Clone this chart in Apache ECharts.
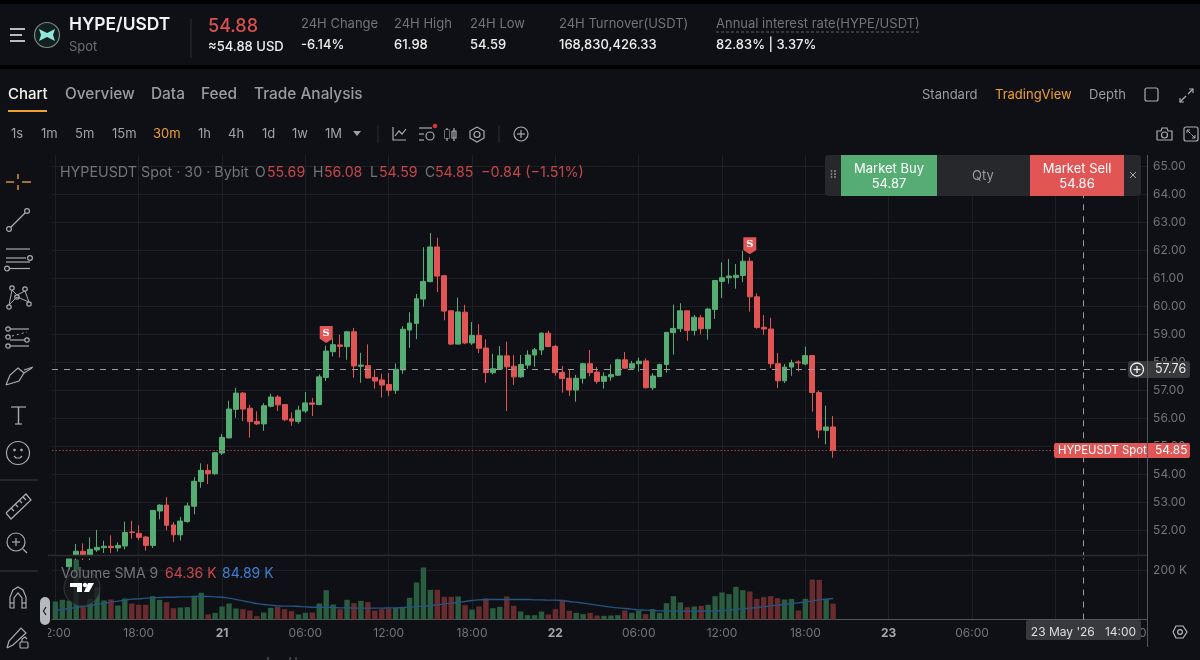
<!DOCTYPE html>
<html><head><meta charset="utf-8">
<style>html,body{margin:0;padding:0;background:#000}#c{width:1200px;height:660px}</style>
<script src="https://cdn.jsdelivr.net/npm/echarts@6/dist/echarts.min.js"></script>
</head><body><div id="c"></div>
<script>
const opens=[50.30,50.55,50.70,51.06,51.25,51.11,51.30,51.38,51.43,51.37,
51.44,51.94,51.89,51.76,51.46,52.69,52.90,52.19,51.84,52.31,
52.86,53.74,54.14,54.02,54.76,55.30,56.32,56.90,56.36,55.89,
55.80,56.43,56.76,56.49,55.98,55.89,56.26,56.55,56.49,57.46,
58.38,58.62,58.56,59.09,57.86,57.88,57.46,57.37,57.21,57.00,
57.73,59.15,59.39,60.26,60.88,62.12,61.09,59.84,58.65,59.79,
58.69,58.96,58.51,57.63,57.76,58.23,57.86,57.48,57.90,58.26,
58.44,59.04,58.57,57.64,57.43,57.01,57.43,57.95,57.65,57.32,
57.48,57.54,58.09,57.79,57.95,58.05,57.09,57.49,57.92,59.06,
59.20,59.84,59.14,59.59,59.20,59.89,60.89,61.02,61.03,61.10,
61.61,60.34,59.25,59.19,57.95,57.34,57.83,58.01,57.94,58.24,
56.92,55.57,55.69];
const closes=[50.55,50.70,51.00,51.25,51.11,51.32,51.39,51.43,51.38,51.46,
51.92,51.92,51.75,51.46,52.71,52.90,52.18,51.84,52.33,52.87,
53.75,54.14,54.02,54.77,55.32,56.33,56.90,56.33,55.88,55.80,
56.45,56.76,56.48,55.95,55.90,56.29,56.55,56.50,57.48,58.40,
58.63,58.57,59.09,57.87,57.90,57.44,57.33,57.19,57.00,57.75,
59.18,59.40,60.27,60.89,62.12,61.08,59.83,58.65,59.80,58.69,
58.96,58.50,57.63,57.77,58.23,57.84,57.48,57.92,58.26,58.45,
59.04,58.56,57.63,57.42,57.01,57.43,57.95,57.63,57.32,57.50,
57.56,58.09,57.79,57.95,58.04,57.09,57.51,57.92,59.07,59.21,
59.84,59.14,59.61,59.20,59.90,60.92,61.02,61.08,61.11,61.61,
60.34,59.24,59.19,57.95,57.34,57.83,57.98,57.98,58.24,56.92,
55.58,55.69,54.85];
const lows=[50.20,50.40,50.60,50.94,50.94,50.94,51.23,51.19,51.19,51.24,
51.32,51.70,51.65,51.27,51.37,52.39,52.00,51.58,51.63,52.27,
52.57,53.52,53.65,53.98,54.69,55.28,56.02,55.90,55.31,55.76,
55.55,56.39,56.26,55.90,55.73,55.81,56.19,56.08,56.47,57.33,
58.21,58.17,58.09,57.45,57.27,57.43,57.06,56.74,56.79,56.87,
57.59,58.52,58.83,59.99,60.87,60.51,59.50,58.62,58.64,58.65,
58.62,58.33,57.27,57.57,57.75,56.26,57.19,57.45,57.77,57.84,
58.26,58.55,57.52,56.92,56.80,56.59,57.24,57.50,57.24,57.06,
57.34,57.52,57.76,57.76,57.67,57.07,57.01,57.48,57.63,58.27,
59.08,58.77,58.96,59.00,58.81,59.55,60.30,60.81,60.63,60.86,
59.81,59.20,58.98,57.80,57.08,57.26,57.52,57.67,57.89,56.24,
55.29,55.07,54.59];
const highs=[50.70,50.85,51.10,51.51,51.53,51.75,52.01,51.63,51.82,51.57,
52.31,52.34,52.18,51.80,52.72,52.93,53.19,52.29,52.48,52.98,
53.90,54.39,54.36,54.80,55.44,56.63,57.09,56.94,56.48,56.25,
56.54,56.88,56.83,56.51,56.21,56.45,56.94,56.73,57.57,58.59,
58.86,58.98,59.12,59.23,58.34,58.64,57.75,57.59,57.62,57.96,
59.29,59.79,60.44,62.11,62.62,62.45,61.13,59.85,60.31,60.05,
59.44,59.36,58.82,58.30,58.58,58.74,58.26,58.26,58.43,58.51,
59.07,59.13,58.62,57.87,57.74,57.55,57.98,58.44,57.83,57.64,
57.93,58.13,58.37,58.05,58.17,58.14,57.61,57.95,59.08,60.06,
60.11,59.85,59.69,59.69,59.94,60.94,61.57,61.69,61.51,61.98,
61.75,60.46,59.69,59.59,58.33,57.94,58.09,58.07,58.56,58.26,
56.99,56.45,56.08];
const volumesK=[72.7,79.5,76.8,242.5,49.8,83.5,130.7,76.8,80.8,56.6,
84.9,64.7,59.3,59.3,94.3,79.5,70,45.8,48.5,49.8,
95.6,107.8,20.2,26.9,52.5,64.7,44.5,41.8,36.4,13.5,
28.3,47.1,51.2,41.8,33.7,20.2,26.9,28.3,64.7,118.5,
60.6,41.8,79.5,66,75.4,70,36.4,41.8,44.5,47.1,
47.1,87.6,149.5,210.1,119.9,119.9,91.6,91.6,92.9,57.9,
40.4,52.5,84.9,45.8,51.2,92.9,55.2,32.3,17.5,17.5,
32.3,20.2,41.8,79.5,35,26.9,21.6,26.9,16.2,14.8,
16.2,17.5,36.4,26.9,35,21.6,41.8,26.9,66,94.3,
68.7,49.8,52.5,55.2,59.3,94.3,109.1,102.4,132,118.5,
113.1,83.5,90.2,94.3,86.2,80.8,83.5,36.4,83.5,161.6,
160.3,83.5,64.36];
const smaK=[36.4,40.4,44.5,48.5,52.5,56.6,60.6,66,70,74.1,
78.1,82.2,83.5,86.2,87.6,88.9,90.2,90.2,91.6,91.6,
92.9,92.9,92.9,91.6,90.2,86.2,80.8,75.4,70,64.7,
60.6,57.9,55.2,53.9,53.9,52.5,51.2,49.8,49.8,49.8,
48.5,47.1,47.1,45.8,45.8,45.8,45.8,45.8,47.1,47.1,
48.5,49.8,52.5,53.9,56.6,59.3,63.3,66,68.7,72.7,
76.8,79.5,80.8,80.8,80.8,80.8,80.8,80.8,80.8,79.5,
79.5,78.1,78.1,76.8,72.7,70,66,62,57.9,53.9,
49.8,47.1,44.5,41.8,39.1,37.7,36.4,35,33.7,33.7,
33.7,33.7,33.7,33.7,35,35,36.4,37.7,40.4,43.1,
45.8,48.5,51.2,55.2,57.9,60.6,64.7,67.4,71.4,75.4,
79.5,82.2,84.89];
const tickLabels=['12:00','18:00','21','06:00','12:00','18:00','22','06:00','12:00','18:00','23','06:00','12:00','18:00'];
const slotCount=158;
const sellFlagIndex=[39,100];
const sellFlagPrice=[58.99,62.16];
const lastPrice=54.85, crossPrice=57.76, crossIndex=148;
const yTicks={min:51,interval:1};

const categories=[];
for(let i=0;i<slotCount;i++){categories.push(i%12===0?tickLabels[i/12]:String(i));}
const candles=opens.map((o,i)=>[o,closes[i],lows[i],highs[i]]);

const BG='#0f1015',UP='#56ad73',DN='#e15555',GRID='#1d1f23',DIM='#727479',UI='Inter, "Noto Sans", sans-serif';
const els=[];
const R=(x,y,w,h,fill,z=50,r=0)=>els.push({type:'rect',silent:true,z,shape:{x,y,width:w,height:h,r},style:{fill}});
const T=(x,y,text,size,fill,weight=400,align='left')=>els.push({type:'text',silent:true,z:60,x,y,style:{text,fill,font:`${weight} ${size}px ${UI}`,align,verticalAlign:'middle',textAlign:align,textVerticalAlign:'middle'}});
const P=(pts,stroke='#a9abaf',w=1.2,dash)=>els.push({type:'polyline',silent:true,z:60,shape:{points:pts},style:{stroke,lineWidth:w,fill:null,lineDash:dash||null}});
const C=(cx,cy,r,stroke='#a9abaf',w=1.2,fill=null,z=60)=>els.push({type:'circle',silent:true,z,shape:{cx,cy,r},style:{stroke,lineWidth:w,fill}});
const G=(pts,fill,z=60)=>els.push({type:'polygon',silent:true,z,shape:{points:pts},style:{fill}});

// frame strips
R(0,0,1200,4,'#000',70);R(0,65,1200,4,'#000',70);
// header
P([[10,29],[25,29]],'#e8e8e8',1.6);P([[10,35],[22,35]],'#e8e8e8',1.6);P([[10,41],[25,41]],'#e8e8e8',1.6);
C(47,35,12.5,'#7b8a88',1.2,'#122020');
G([[39,29],[47,33],[55,29],[53,35],[55,41],[47,37],[39,41],[41,35]],'#8fe8d8');
T(69,25,'HYPE/USDT',17.4,'#f2f2f2',600);T(69,47,'Spot',13,'#6b6d72');
P([[191,19],[191,58]],'#2a2c30',1);
T(208,27,'54.88',18,'#d9514f',500);T(208,47,'≈54.88 USD',13,'#eeeeee',500);
T(301,24,'24H Change',13,DIM);T(301,45,'-6.14%',13,'#eeeeee',500);
T(394,24,'24H High',13,DIM);T(394,45,'61.98',13,'#eeeeee',500);
T(470,24,'24H Low',13,DIM);T(470,45,'54.59',13,'#eeeeee',500);
T(559,24,'24H Turnover(USDT)',13,DIM);T(559,45,'168,830,426.33',13,'#eeeeee',500);
T(716,24,'Annual interest rate(HYPE/USDT)',13,DIM);P([[716,32],[919,32]],'#5c5e63',1,[3,2]);
T(716,45,'82.83% | 3.37%',13,'#eeeeee',500);
// tabs
T(8,94,'Chart',15,'#f2f2f2',500);T(65,94,'Overview',15.4,'#9a9ca0',500);T(151,94,'Data',15.4,'#9a9ca0',500);T(201,94,'Feed',15.4,'#9a9ca0',500);T(254,94,'Trade Analysis',15.4,'#9a9ca0',500);
R(8,110,39,2,'#f0a030',60);
T(922,95,'Standard',13,'#9a9ca0');T(995,95,'TradingView',13,'#f0a030');T(1089,95,'Depth',13,'#9a9ca0');
els.push({type:'rect',silent:true,z:60,shape:{x:1145,y:88,width:13,height:13,r:2},style:{stroke:'#a9abaf',lineWidth:1.2,fill:null}});
P([[1180,102],[1186,96]]);P([[1180,98],[1180,102],[1184,102]]);P([[1188,94],[1193,89]]);P([[1189,89],[1193,89],[1193,93]]);
// intervals
[['1s',11],['1m',41],['5m',75],['15m',112],['1h',198],['4h',228],['1d',262],['1w',292],['1M',325]].forEach(a=>T(a[1],134,a[0],13,'#a0a2a6'));
T(153,134,'30m',13,'#f0a030');
G([[353,131],[361,131],[357,136]],'#a0a2a6');
P([[378,125],[378,143]],'#2a2c30',1);P([[499,125],[499,143]],'#2a2c30',1);
P([[393,127],[393,140],[406,140]]);P([[395,136],[399,131],[402,134],[406,129]]);
P([[419,128],[432,128]]);P([[419,134],[424,134]]);P([[419,140],[424,140]]);C(430,136,4);C(435,126,1.8,'#e33',1,'#e33');
P([[447,128],[447,141]]);R(445,130,4,8,'#0f1015',61);P([[445,130],[449,130],[449,138],[445,138],[445,130]]);
P([[454,128],[454,141]]);P([[452,131],[456,131],[456,138],[452,138],[452,131]]);
P([[477,127],[484,131],[484,138],[477,142],[470,138],[470,131],[477,127]]);C(477,134.5,3);
C(521,134,7);P([[517,134],[525,134]]);P([[521,130],[521,138]]);
// camera, fullscreen
P([[1157,140],[1157,131],[1161,131],[1162,128],[1167,128],[1168,131],[1172,131],[1172,140],[1157,140]]);C(1164.5,135,3);
els.push({type:'rect',silent:true,z:60,shape:{x:1184,y:127,width:14,height:14,r:2},style:{stroke:'#a9abaf',lineWidth:1.2,fill:null}});
P([[1187,130],[1190.5,133.5]],'#a9abaf',1);P([[1187,133],[1187,130],[1190,130]],'#a9abaf',1);
P([[1195,138],[1191.5,134.5]],'#a9abaf',1);P([[1195,135],[1195,138],[1192,138]],'#a9abaf',1);
// left tools
P([[18,174],[18,179]],'#c98a3c',1.6);P([[18,185],[18,190]],'#c98a3c',1.6);P([[6,182],[14,182]],'#c98a3c',1.6);P([[22,182],[31,182]],'#c98a3c',1.6);
C(9,229,2.4);C(27,211,2.4);P([[11,227],[25,213]]);
P([[6,249],[30,249]]);P([[6,258],[26,258]]);C(30,258,2.4);P([[6,262],[30,262]]);P([[10,268.5],[30,268.5]]);C(7,268.5,2.4);
C(9,307,2.2);C(12,288,2.2);C(25,289,2.2);C(29,304,2.2);C(17,297,2.2);
P([[9,305],[12,290],[17,295],[25,291],[29,302],[17,297],[9,305]],'#a9abaf',1);
C(8,329,2.2);C(8,337,2.2);C(8,346,2.2);C(27,340,2.2);
P([[10,329],[29,329]]);P([[10,340],[25,340]]);P([[10,346],[29,346]]);P([[12,336],[27,332]],'#a9abaf',1,[2,3]);
P([[6,385],[10,375],[18,368],[24,373],[19,381],[6,385]]);P([[24,370],[33,367]]);P([[24,373],[32,368]]);
P([[11,407],[26,407]]);P([[18.5,407],[18.5,424]],'#a9abaf',1.4);P([[15,424],[22,424]]);
C(18,453,11.5);C(14.5,450,0.9,'#a9abaf',1,'#a9abaf');C(21.5,450,0.9,'#a9abaf',1,'#a9abaf');P([[14,456],[16,458],[20,458],[22,456]]);
P([[0,480],[38,480]],'#2c2e32',1.4);
P([[6,513],[26,494],[31,500],[11,519],[6,513]]);P([[11,508],[14,511]]);P([[15,504],[18,507]]);P([[19,500],[22,503]]);P([[23,497],[26,500]]);
C(16,542,9);P([[12,542],[20,542]]);P([[16,538],[16,546]]);P([[23,549],[27,553]]);
P([[0,571],[38,571]],'#2c2e32',1.4);
P([[10,608],[10,597],[13,590],[18,587],[23,590],[26,597],[26,608],[22,608],[22,598],[18,593],[14,598],[14,608],[10,608]]);P([[10,603],[14,603]]);P([[22,603],[26,603]]);
P([[7,648],[9,641],[21,628],[26,633],[13,645],[7,648]]);
els.push({type:'rect',silent:true,z:60,shape:{x:20,y:642,width:8,height:6,r:1},style:{stroke:'#a9abaf',lineWidth:1.2,fill:null}});P([[22,642],[22,639],[25,637],[27,639]]);

// widget
R(825,155,316,41,'#26282c',55,4);R(841,155,96,41,UP,56);R(1030,155,94,41,DN,56);
[160,163,166].forEach(d=>{C(831.5,d+11,0.6,'#8a8c90',1,'#8a8c90');C(835,d+11,0.6,'#8a8c90',1,'#8a8c90');});
T(889,169,'Market Buy',13,'#ffffff',400,'center');T(889,184,'54.87',13,'#ffffff',400,'center');
T(983,176,'Qty',13,'#9a9ca0',400,'center');
T(1077,169,'Market Sell',13,'#ffffff',400,'center');T(1077,184,'54.86',13,'#ffffff',400,'center');
P([[1130,172],[1136,178]],'#a9abaf',1);P([[1136,172],[1130,178]],'#a9abaf',1);
// legend
T(60,173,'HYPEUSDT Spot · 30 · Bybit',14.3,DIM);
T(255,173,'O',14,DIM);T(267,173,'55.69',14.2,'#c5474a');T(313,173,'H',14,DIM);T(324,173,'56.08',14.2,'#c5474a');
T(370,173,'L',14,DIM);T(379,173,'54.59',14.2,'#c5474a');T(425,173,'C',14,DIM);T(435,173,'54.85',14.2,'#c5474a');T(481,173,'−0.84 (−1.51%)',14.4,'#c5474a');
T(61,574,'Volume SMA 9',14,DIM);T(165,574,'64.36 K',14,'#c8484b');T(222,574,'84.89 K',14,'#3f7fd6');
// overlays around panes
R(48,555.4,1100,3.2,BG,40);
P([[48,555.5],[1147,555.5]],'#2a2c30',1.4);
R(1148,150,3,470,BG,5);
R(0,620,48,40,BG,40);R(1148,620,52,40,BG,40);
P([[1147.5,155],[1147.5,647]],'#55575b',1);
// TV logo
C(82,588,18,'rgba(70,70,74,0.7)',1,'rgba(24,25,29,0.78)',45);
G([[70,583],[82,583],[82,592],[77,592],[77,587],[70,587]],'#ffffff');C(85,585,1.8,'#fff',1,'#fff');G([[88,583],[94,583],[89,592],[84,592]],'#ffffff');
// pill
R(40,597,10,28,'#b6b9be',55,5);P([[46,607],[43.5,611],[46,615]],'#222',1.3);
// price tags
R(1128,361,62,17,'#37393c',55,3);C(1137,369.5,6.5,'#f0f0f0',1.3,null);P([[1133.5,369.5],[1140.5,369.5]],'#f0f0f0',1.3);P([[1137,366],[1137,373]],'#f0f0f0',1.3);
T(1155,369.5,'57.76',12.5,'#e8e8e8');
R(1054,443,136,15,DN,55,2);T(1058,450.5,'HYPEUSDT Spot',11.3,'#ffffff');T(1155,450.5,'54.85',12,'#ffffff');
// date label
R(1026,620,115,20,'#37393c',55,2);T(1083.5,632,"23 May '26   14:00",12,'#dddddd',400,'center');
// gear
P([[1173,632],[1176,626],[1183,626],[1187,632],[1183,638],[1176,638],[1173,632]],'#b8babe',1.2);C(1180,632,2.4,'#b8babe',1.2);
// tiny bottom ticks
P([[268,657],[268,660]],'#6a6c70',1);P([[290,657],[290,660]],'#6a6c70',1);P([[296,657],[296,660]],'#6a6c70',1);

const chart=echarts.init(document.getElementById('c'));
const cellW=6.944,gridLeft=51.93,gridW=slotCount*cellW;
const every12=i=>i%12===0;
const splitX={show:true,interval:every12,alignWithLabel:true,lineStyle:{color:GRID,width:1}};
chart.setOption({
  animation:false,backgroundColor:BG,
  textStyle:{fontFamily:UI},
  graphic:{elements:els},
  grid:[{left:gridLeft,top:155,width:gridW,height:403.3},{left:gridLeft,top:556,width:gridW,height:63.5}],
  xAxis:[
    {type:'category',gridIndex:0,data:categories,boundaryGap:true,axisLine:{show:false},axisTick:{show:false},axisLabel:{show:false},splitLine:splitX},
    {type:'category',gridIndex:1,data:categories,boundaryGap:true,
      axisLine:{show:true,lineStyle:{color:'#55575b',width:1}},axisTick:{show:false},
      axisLabel:{show:true,interval:(i)=>every12(i),margin:8,color:DIM,fontSize:12,fontFamily:UI,hideOverlap:false,
        formatter:v=>/^\d\d$/.test(v)?'{b|'+v+'}':v,rich:{b:{fontWeight:700,color:'#a4a6aa',fontSize:12,fontFamily:UI}}},
      splitLine:splitX}
  ],
  yAxis:[
    {type:'value',gridIndex:0,position:'right',offset:-3,min:yTicks.min,max:65.404,interval:yTicks.interval,
      axisLine:{show:false},axisTick:{show:false},
      axisLabel:{margin:7,color:DIM,fontSize:12,fontFamily:UI,padding:[2,0,0,0],showMinLabel:false,showMaxLabel:false,formatter:v=>v.toFixed(2)},
      splitLine:{show:true,showMinLine:false,showMaxLine:false,lineStyle:{color:GRID,width:1}}},
    {type:'value',gridIndex:1,position:'right',offset:-3,min:0,max:256.6,interval:200,
      axisLine:{show:false},axisTick:{show:false},
      axisLabel:{margin:7,color:DIM,fontSize:12,fontFamily:UI,padding:[2,0,0,0],showMinLabel:false,showMaxLabel:false,formatter:v=>v+' K'},
      splitLine:{show:true,showMinLine:false,showMaxLine:false,lineStyle:{color:GRID,width:1}}}
  ],
  series:[
    {type:'candlestick',xAxisIndex:0,yAxisIndex:0,data:candles,barWidth:5.4,clip:true,silent:true,
      itemStyle:{color:UP,color0:DN,borderColor:UP,borderColor0:DN,borderWidth:1},
      markPoint:{silent:true,symbol:'path://M0,0 L13,0 L13,12 L6.5,16 L0,12 Z',symbolSize:[13,17],
        itemStyle:{color:DN},label:{show:true,formatter:'S',color:'#fff',fontSize:10,fontWeight:700,fontFamily:'"DejaVu Serif",serif',position:'inside',offset:[0,-1]},
        data:sellFlagIndex.map((x,i)=>({coord:[x,sellFlagPrice[i]]}))},
      markLine:{silent:true,symbol:'none',animation:false,label:{show:false},precision:2,
        data:[
          {yAxis:crossPrice,lineStyle:{color:'#9b9da0',type:[6,6],width:1}},
          {yAxis:lastPrice,lineStyle:{color:'#a83e40',type:[1.5,2],width:1}},
          {xAxis:crossIndex,lineStyle:{color:'#9b9da0',type:[6,6],width:1}}
        ]}},
    {type:'bar',xAxisIndex:1,yAxisIndex:1,barWidth:5.4,silent:true,
      data:volumesK.map((v,i)=>({value:v,itemStyle:{color:closes[i]>=opens[i]?'#2a5c40':'#682c2e'}})),
      markLine:{silent:true,symbol:'none',animation:false,label:{show:false},
        data:[{xAxis:crossIndex,lineStyle:{color:'#9b9da0',type:[6,6],width:1}}]}},
    {type:'line',xAxisIndex:1,yAxisIndex:1,data:smaK,smooth:true,showSymbol:false,silent:true,lineStyle:{color:'#235484',width:1.4}}
  ]
});
</script></body></html>
